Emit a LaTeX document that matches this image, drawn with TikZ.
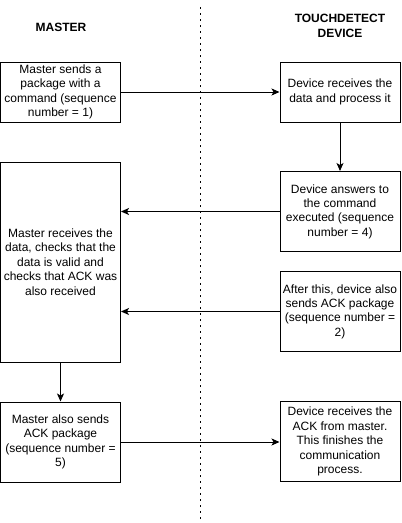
\documentclass[tikz,border=0pt]{standalone}
\usepackage{fontspec}
\setmainfont{Liberation Sans}
\usetikzlibrary{arrows.meta}
\tikzset{
  box/.style={draw=black, line width=1pt, fill=white, align=center, inner sep=0pt,
    minimum width=120pt, font=\fontsize{12}{14.4}\selectfont},
  head/.style={align=center, inner sep=0pt, font=\fontsize{12}{14.4}\selectfont\bfseries},
  conn/.style={line width=1pt, -{Stealth[length=8pt,width=7pt,inset=2pt]}},
  lane/.style={line width=1.6pt, dash pattern=on 1.6pt off 4.4pt}
}
\begin{document}
\begin{tikzpicture}[x=1pt,y=-1pt]
\useasboundingbox (0,0) rectangle (402,523);
\coordinate (ltop) at (200.5,7);
\coordinate (lbot) at (200.5,521);
\draw[lane] (ltop) -- (lbot);
\node[head] (hm) at (61,27) {MASTER};
\node[head] (hd) at (340,26) {TOUCHDETECT\\DEVICE};
\node[box, minimum height=60pt] (b1) at (60.5,92) {Master sends a\\package with a\\command (sequence\\number = 1)};
\node[box, minimum height=60pt] (b2) at (340,92) {Device receives the\\data and process it};
\node[box, minimum height=80pt] (b3) at (340,211.5) {Device answers to\\the command\\executed (sequence\\number = 4)};
\node[box, minimum height=200pt] (bm) at (60.5,262) {Master receives the\\data, checks that the\\data is valid and\\checks that ACK was\\also received};
\node[box, minimum height=80pt] (b4) at (340,311.5) {After this, device also\\sends ACK package\\(sequence number =\\2)};
\node[box, minimum height=80pt] (b5) at (60.5,442) {Master also sends\\ACK package\\(sequence number =\\5)};
\node[box, minimum height=80pt] (b6) at (340,441.5) {Device receives the\\ACK from master.\\This finishes the\\communication\\process.};
\draw[conn] (b1.east) -- (b2.west);
\draw[conn] (b2.south) -- (b3.north);
\draw[conn] (b3.west) -- (b3.west -| bm.east);
\draw[conn] (b4.west) -- (b4.west -| bm.east);
\draw[conn] (bm.south) -- (b5.north);
\draw[conn] (b5.east) -- (b5.east -| b6.west);
\end{tikzpicture}
\end{document}
